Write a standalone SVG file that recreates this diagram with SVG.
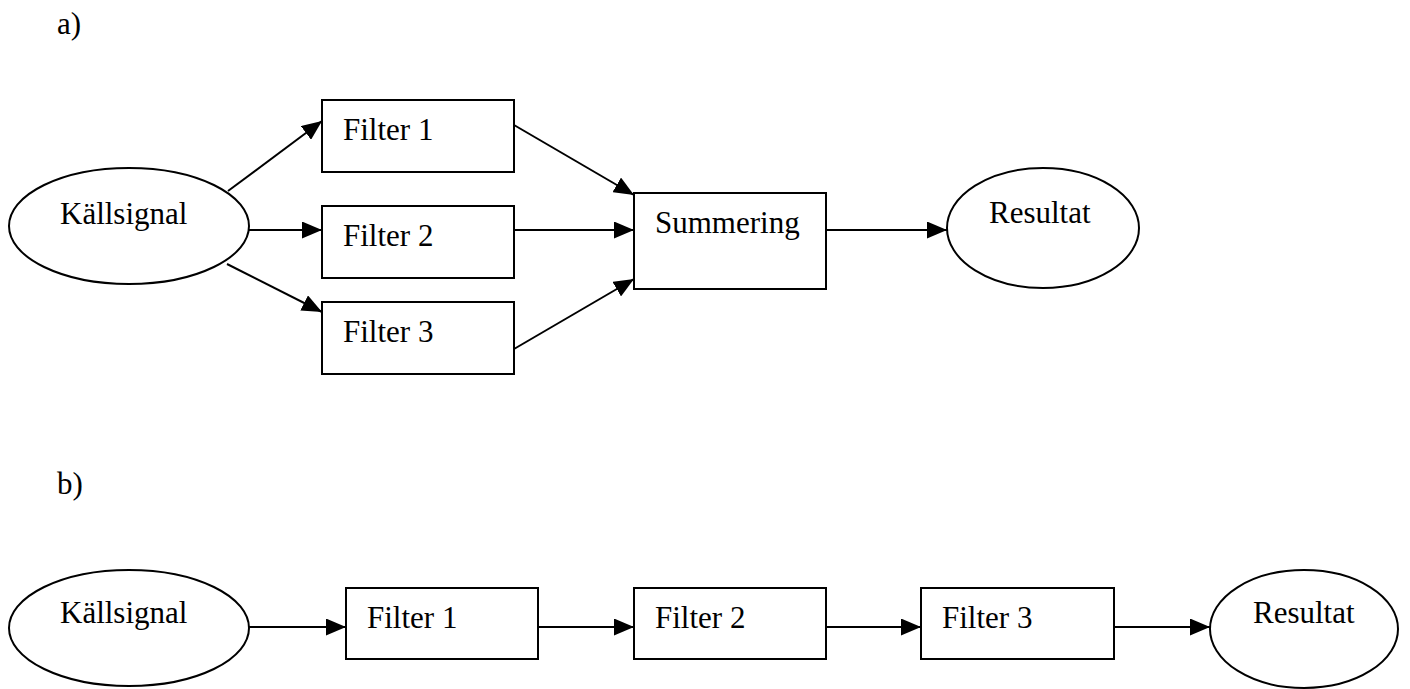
<svg xmlns="http://www.w3.org/2000/svg" width="1410" height="689" viewBox="0 0 1410 689">
<style>
.n{fill:#fff;stroke:#000;stroke-width:2}
.t{font-family:"Liberation Serif","Times New Roman",serif;font-size:31px;fill:#000}
.c{stroke:#000;stroke-width:2;fill:none;marker-end:url(#ah)}
</style>
<defs>
<marker id="ah" markerUnits="userSpaceOnUse" markerWidth="20" markerHeight="17" refX="20" refY="8.5" orient="auto" viewBox="0 0 20 17">
<path d="M0,0 L20,8.5 L0,17 z" fill="#000"/>
</marker>
</defs>
<rect width="1410" height="689" fill="#fff"/>
<text class="t" x="57" y="34">a)</text>
<text class="t" x="57" y="494">b)</text>
<g id="connectors">
<line class="c" x1="228" y1="191" x2="322" y2="121"/>
<line class="c" x1="249" y1="230" x2="322" y2="230"/>
<line class="c" x1="227" y1="264" x2="322" y2="312"/>
<line class="c" x1="514" y1="125" x2="634" y2="195"/>
<line class="c" x1="514" y1="230" x2="634" y2="230"/>
<line class="c" x1="514" y1="349" x2="634" y2="279"/>
<line class="c" x1="826" y1="230" x2="947" y2="230"/>
<line class="c" x1="249" y1="627" x2="346" y2="627"/>
<line class="c" x1="538" y1="627" x2="634" y2="627"/>
<line class="c" x1="826" y1="627" x2="921" y2="627"/>
<line class="c" x1="1114" y1="627" x2="1210" y2="627"/>
</g>
<g id="a_kallsignal"><ellipse class="n" cx="129" cy="226" rx="120" ry="58"/><text class="t" x="60" y="224">Källsignal</text></g>
<g id="a_filter1"><rect class="n" x="322" y="100" width="192" height="72"/><text class="t" x="343" y="140">Filter 1</text></g>
<g id="a_filter2"><rect class="n" x="322" y="206" width="192" height="72"/><text class="t" x="343" y="246">Filter 2</text></g>
<g id="a_filter3"><rect class="n" x="322" y="302" width="192" height="72"/><text class="t" x="343" y="342">Filter 3</text></g>
<g id="a_summering"><rect class="n" x="634" y="193" width="192" height="96"/><text class="t" x="655" y="233">Summering</text></g>
<g id="a_resultat"><ellipse class="n" cx="1043" cy="228" rx="96" ry="60"/><text class="t" x="989" y="223">Resultat</text></g>
<g id="b_kallsignal"><ellipse class="n" cx="129" cy="628" rx="120" ry="58"/><text class="t" x="60" y="623">Källsignal</text></g>
<g id="b_filter1"><rect class="n" x="346" y="588" width="192" height="71"/><text class="t" x="367" y="628">Filter 1</text></g>
<g id="b_filter2"><rect class="n" x="634" y="588" width="192" height="71"/><text class="t" x="655" y="628">Filter 2</text></g>
<g id="b_filter3"><rect class="n" x="921" y="588" width="193" height="71"/><text class="t" x="942" y="628">Filter 3</text></g>
<g id="b_resultat"><ellipse class="n" cx="1304" cy="629" rx="94" ry="59"/><text class="t" x="1253" y="623">Resultat</text></g>
</svg>
